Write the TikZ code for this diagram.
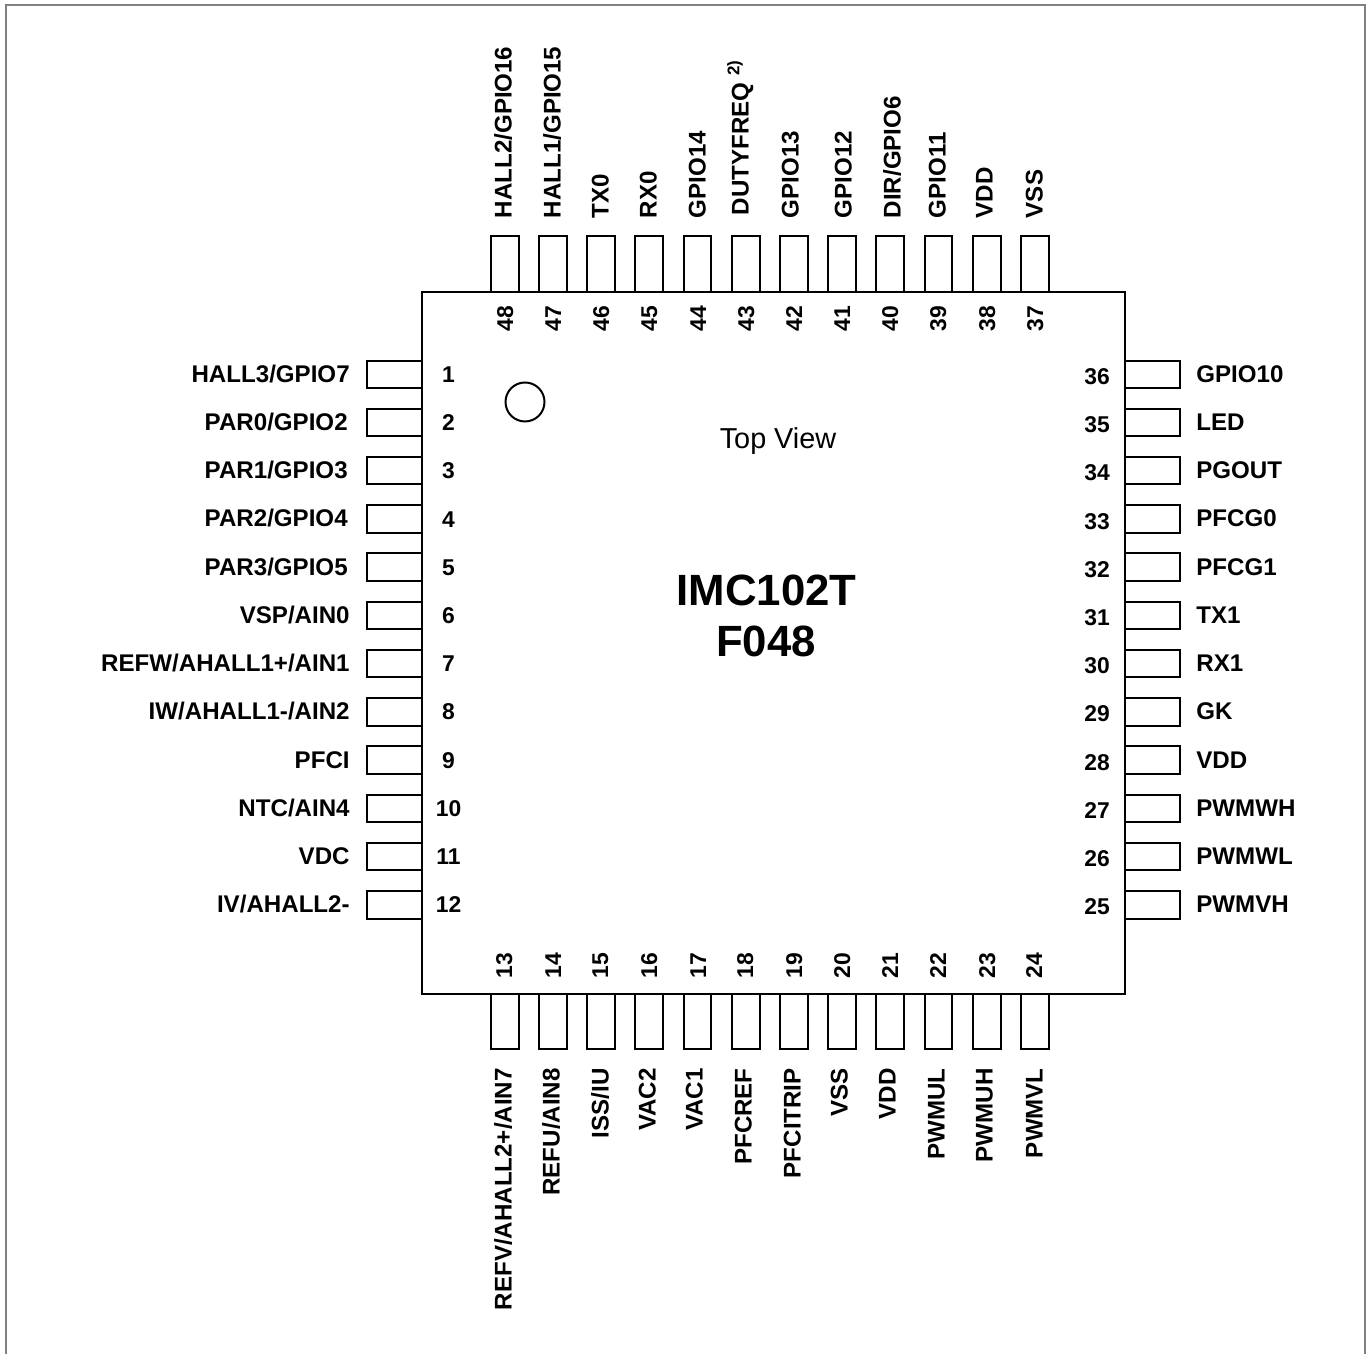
\documentclass[tikz,border=0pt]{standalone}
\usepackage{fontspec}
\setmainfont{Liberation Sans}
\tikzset{
  pinbox/.style={black, line width=.04cm},
  pinlab/.style={inner sep=0pt, text height=9.7pt, text depth=0pt, font=\bfseries\fontsize{13.72}{16}\selectfont},
  pinnum/.style={inner sep=0pt, text height=9.2pt, text depth=0pt, font=\bfseries\fontsize{13}{16}\selectfont}
}
\begin{document}
\begin{tikzpicture}
\useasboundingbox (0,0) rectangle (27.42,27.08);
% page frame, open at the bottom
\draw[gray, line width=.04cm] (.12,0) -- (.12,26.98) -- (27.3,26.98) -- (27.3,0);
% package
\draw[pinbox] (8.44,7.2) rectangle (22.49,21.24);
\draw[pinbox] (10.5,19.04) circle (.39);
\node (view) at (15.56,18.26) {\fontsize{16.4}{18}\selectfont Top View};
\node (part) at (15.33,15.27) {\bfseries\fontsize{24.9}{30}\selectfont IMC102T};
\node (pack) at (15.32,14.25) {\bfseries\fontsize{24.9}{30}\selectfont F048};
% left row
\foreach \n/\lab/\xlab in {1/{HALL3/GPIO7}/7,2/{PAR0/GPIO2}/6.96,3/{PAR1/GPIO3}/6.96,4/{PAR2/GPIO4}/6.96,5/{PAR3/GPIO5}/6.96,6/{VSP/AIN0}/7,7/{REFW/AHALL1+/AIN1}/7,8/{IW/AHALL1-/AIN2}/7,9/{PFCI}/7,10/{NTC/AIN4}/7,11/{VDC}/7,12/{IV/AHALL2-}/7}{
  \pgfmathsetmacro{\ypin}{19.594-(\n-1)*.9645}
  \draw[pinbox] (7.33,\ypin-.275) rectangle ++(1.11,.55);
  \node[pinnum] (num\n) at (8.97,\ypin) {\n};
  \node[pinlab, anchor=east] (lab\n) at (\xlab,\ypin+.01) {\lab};
}
% right row
\foreach \n/\lab in {36/{GPIO10},35/{LED},34/{PGOUT},33/{PFCG0},32/{PFCG1},31/{TX1},30/{RX1},29/{GK},28/{VDD},27/{PWMWH},26/{PWMWL},25/{PWMVH}}{
  \pgfmathsetmacro{\ypin}{19.594-(36-\n)*.9645}
  \draw[pinbox] (22.49,\ypin-.275) rectangle ++(1.1,.55);
  \node[pinnum] (num\n) at (21.94,\ypin-.04) {\n};
  \node[pinlab, anchor=west] (lab\n) at (23.92,\ypin+.01) {\lab};
}
% top row
\foreach \n/\lab/\xlab/\xnum in {48/{HALL2/GPIO16}/10.06/10.1,47/{HALL1/GPIO15}/11.04/11.06,46/{TX0}/12/12.02,45/{RX0}/12.96/12.98,44/{GPIO14}/13.94/13.96,43/{\hspace*{.06cm}DUTYFREQ \textsuperscript{2)}}/14.8/14.92,42/{GPIO13}/15.8/15.88,41/{GPIO12}/16.86/16.84,40/{DIR/GPIO6}/17.84/17.8,39/{GPIO11}/18.74/18.76,38/{VDD}/19.68/19.74,37/{VSS}/20.68/20.7}{
  \pgfmathsetmacro{\xpin}{10.094+(48-\n)*.964}
  \draw[pinbox] (\xpin-.277,21.24) rectangle ++(.554,1.11);
  \node[pinnum, rotate=90] (num\n) at (\xnum,20.7) {\n};
  \node[pinlab, rotate=90, anchor=west] (lab\n) at (\xlab,22.71) {\lab};
}
% bottom row
\foreach \n/\lab/\xlab/\xnum in {13/{REFV/AHALL2+/AIN7}/10.06/10.08,14/{REFU/AIN8}/11.02/11.06,15/{ISS/IU}/12/12,16/{VAC2}/12.94/12.98,17/{VAC1}/13.88/13.96,18/{PFCREF}/14.86/14.9,19/{PFCITRIP}/15.84/15.88,20/{VSS}/16.78/16.84,21/{VDD}/17.74/17.8,22/{PWMUL}/18.72/18.76,23/{PWMUH}/19.68/19.74,24/{PWMVL}/20.68/20.68}{
  \pgfmathsetmacro{\xpin}{10.094+(\n-13)*.964}
  \draw[pinbox] (\xpin-.277,6.09) rectangle ++(.554,1.11);
  \node[pinnum, rotate=90] (num\n) at (\xnum,7.76) {\n};
  \node[pinlab, rotate=90, anchor=east] (lab\n) at (\xlab,5.72) {\lab};
}
\end{tikzpicture}
\end{document}
